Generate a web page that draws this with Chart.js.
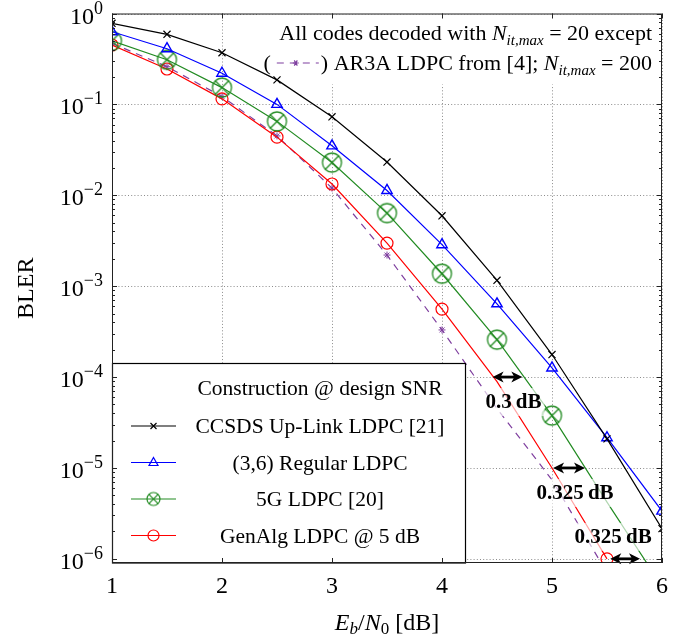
<!DOCTYPE html>
<html>
<head>
<meta charset="utf-8">
<script src="https://cdn.jsdelivr.net/npm/chart.js@4.4.1/dist/chart.umd.min.js"></script>
<style>
  html, body { margin: 0; padding: 0; background: #fff; }
  canvas { display: block; }
</style>
</head>
<body>
<canvas id="bler" width="689" height="643"></canvas>
<script>
// Eb/N0 points [dB]
var ebn0 = [1, 1.5, 2, 2.5, 3, 3.5, 4, 4.5, 5, 5.5, 6];

// BLER
var ccsdsBler = [0.78, 0.59, 0.37, 0.186, 0.073, 0.0232, 0.00595, 0.00116, 1.77e-4, 2.09e-5, 2.15e-6];
var regularBler = [0.63, 0.41, 0.22, 0.1, 0.035, 0.0113, 2.86e-3, 6.4e-4, 1.26e-4, 2.15e-5, 3.35e-6];
var fiveGBler = [0.50, 0.31, 0.153, 0.065, 0.0229, 6.37e-3, 1.37e-3, 2.58e-4, 3.77e-5, 4.2e-6, 5.0e-7];
var genAlgBler = [0.45, 0.245, 0.115, 0.0436, 0.0133, 2.98e-3, 5.6e-4, 8.9e-5, 1.0e-5, 1.0e-6];
var ar3aBler = [0.47, 0.26, 0.122, 0.045, 0.012, 2.2e-3, 3.3e-4, 4.5e-5, 7.4e-6, 7.0e-7];

var seriesNames = ['CCSDS Up-Link LDPC [21]', '(3,6) Regular LDPC', '5G LDPC [20]', 'GenAlg LDPC @ 5 dB'];

// axis ticks
var xTicks = [1, 2, 3, 4, 5, 6];
var yExponents = [0, -1, -2, -3, -4, -5, -6];

// gaps marked with arrows
var gapBler = [1e-4, 1e-5, 1e-6];
var gapFrom = [4.46, 5.01, 5.53];
var gapTo = [4.73, 5.30, 5.80];
var gapText = ['0.3\u2009dB', '0.325\u2009dB', '0.325\u2009dB'];

var SERIF = '"Liberation Serif", "DejaVu Serif", serif';
var GREEN = '#228b22';
var PURPLE = '#7f3f9f';

function pts(vals) {
    return vals.map(function (v, i) { return { x: ebn0[i], y: v }; });
}

// circle with a cross inside (otimes), used for the 5G curve
function makeOtimes(r, color, lw) {
    var c = document.createElement('canvas');
    var s = Math.ceil(2 * r + lw + 2);
    c.width = s; c.height = s;
    var g = c.getContext('2d');
    var m = s / 2, d = r * Math.SQRT1_2;
    g.strokeStyle = color; g.lineWidth = lw;
    g.beginPath(); g.arc(m, m, r, 0, 2 * Math.PI); g.stroke();
    g.beginPath();
    g.moveTo(m - d, m - d); g.lineTo(m + d, m + d);
    g.moveTo(m - d, m + d); g.lineTo(m + d, m - d);
    g.stroke();
    return c;
}
var otimesBig = makeOtimes(9.5, GREEN, 1.3);
var otimesSmall = makeOtimes(6.5, GREEN, 1.2);

function drawMarker(ctx, kind, x, y, color) {
    ctx.save();
    ctx.strokeStyle = color; ctx.lineWidth = 1.2; ctx.setLineDash([]);
    ctx.beginPath();
    if (kind === 'x') {
        ctx.moveTo(x - 3, y - 3); ctx.lineTo(x + 3, y + 3);
        ctx.moveTo(x - 3, y + 3); ctx.lineTo(x + 3, y - 3);
    } else if (kind === 'tri') {
        ctx.moveTo(x, y - 5); ctx.lineTo(x + 4.5, y + 3); ctx.lineTo(x - 4.5, y + 3); ctx.closePath();
    } else if (kind === 'o') {
        ctx.arc(x, y, 5.5, 0, 2 * Math.PI);
    } else if (kind === 'star') {
        for (var k = 0; k < 3; k++) {
            var a = k * Math.PI / 3;
            ctx.moveTo(x - 3 * Math.cos(a), y - 3 * Math.sin(a));
            ctx.lineTo(x + 3 * Math.cos(a), y + 3 * Math.sin(a));
        }
    }
    ctx.stroke();
    if (kind === 'otimes') ctx.drawImage(otimesSmall, x - otimesSmall.width / 2, y - otimesSmall.height / 2);
    ctx.restore();
}

// text made of runs with different fonts / offsets
function drawRuns(ctx, runs, x, y, align) {
    var w = 0;
    runs.forEach(function (r) {
        if (r.font) ctx.font = r.font;
        r.w = r.width !== undefined ? r.width : ctx.measureText(r.text).width;
        w += r.w;
    });
    var cx = align === 'right' ? x - w : (align === 'center' ? x - w / 2 : x);
    runs.forEach(function (r) {
        if (r.draw) r.draw(ctx, cx, y);
        else { ctx.font = r.font; ctx.fillText(r.text, cx, y + (r.dy || 0)); }
        cx += r.w;
    });
}

function rm(px) { return px + 'px ' + SERIF; }
function it(px) { return 'italic ' + px + 'px ' + SERIF; }

var decorations = {
    id: 'decorations',
    beforeDatasetsDraw: function (chart) {
        var ctx = chart.ctx, a = chart.chartArea;
        var xs = chart.scales.x, ys = chart.scales.y;
        ctx.save();
        // dotted grid
        ctx.strokeStyle = '#8c8c8c'; ctx.lineWidth = 1; ctx.setLineDash([1, 2.2]);
        xTicks.forEach(function (t) {
            var px = Math.round(xs.getPixelForValue(t)) + 0.5;
            ctx.beginPath(); ctx.moveTo(px, a.top); ctx.lineTo(px, a.bottom); ctx.stroke();
        });
        yExponents.forEach(function (e) {
            var py = Math.round(ys.getPixelForValue(Math.pow(10, e))) + 0.5;
            ctx.beginPath(); ctx.moveTo(a.left, py); ctx.lineTo(a.right, py); ctx.stroke();
        });
        ctx.setLineDash([]);

        // note box in the upper right
        ctx.fillStyle = '#fff';
        ctx.fillRect(258, a.top + 1, a.right - 259, 70);
        ctx.fillStyle = '#000'; ctx.textAlign = 'left'; ctx.textBaseline = 'alphabetic';
        drawRuns(ctx, [
            { text: 'All codes decoded with ', font: rm(22) },
            { text: 'N', font: it(22) },
            { text: 'it,max', font: it(15), dy: 5 },
            { text: ' = 20 except', font: rm(22) }
        ], a.right - 10, 40, 'right');
        drawRuns(ctx, [
            { text: '(', font: rm(22) },
            { text: '', width: 50, draw: function (c, x0, y0) {
                var yy = y0 - 7;
                c.save();
                c.strokeStyle = PURPLE; c.lineWidth = 1.2; c.setLineDash([7, 6]); c.lineDashOffset = -3;
                c.beginPath(); c.moveTo(x0 + 3, yy); c.lineTo(x0 + 48, yy); c.stroke();
                c.restore();
                drawMarker(c, 'star', x0 + 25, yy, PURPLE);
            } },
            { text: ') AR3A LDPC from [4]; ', font: rm(22) },
            { text: 'N', font: it(22) },
            { text: 'it,max', font: it(15), dy: 5 },
            { text: ' = 200', font: rm(22) }
        ], a.right - 10, 70, 'right');
        ctx.restore();
    },
    afterDatasetsDraw: function (chart) {
        var ctx = chart.ctx, a = chart.chartArea;
        var xs = chart.scales.x, ys = chart.scales.y;
        ctx.save();

        // gap arrows and labels
        gapBler.forEach(function (b, i) {
            var py = ys.getPixelForValue(b);
            var x1 = xs.getPixelForValue(gapFrom[i]), x2 = xs.getPixelForValue(gapTo[i]);
            var lx = (x1 + x2) / 2 + (i < 2 ? 6 : -12);
            var ly = py + (i < 2 ? 25 : -22);
            ctx.font = 'bold 21px ' + SERIF;
            var tw = ctx.measureText(gapText[i]).width;
            ctx.fillStyle = 'rgba(255,255,255,0.65)';
            ctx.fillRect(lx - tw / 2 - 3, ly - 14, tw + 6, 28);
            ctx.fillStyle = '#000'; ctx.textAlign = 'center'; ctx.textBaseline = 'middle';
            ctx.fillText(gapText[i], lx, ly + 1);

            ctx.strokeStyle = '#000'; ctx.lineWidth = 2.8;
            ctx.beginPath(); ctx.moveTo(x1 + 6, py); ctx.lineTo(x2 - 6, py); ctx.stroke();
            [[x1, 1], [x2, -1]].forEach(function (h) {
                ctx.beginPath();
                ctx.moveTo(h[0], py);
                ctx.lineTo(h[0] + h[1] * 11, py - 5.5);
                ctx.lineTo(h[0] + h[1] * 8, py);
                ctx.lineTo(h[0] + h[1] * 11, py + 5.5);
                ctx.closePath(); ctx.fill();
            });
        });

        // legend
        var lx0 = a.left + 0.5, ly0 = 363.5, lx1 = 465.5, ly1 = a.bottom;
        ctx.fillStyle = '#fff';
        ctx.fillRect(lx0, ly0, lx1 - lx0, ly1 - ly0);
        ctx.strokeStyle = '#000'; ctx.lineWidth = 1.2;
        ctx.strokeRect(lx0, ly0, lx1 - lx0, ly1 - ly0);
        ctx.fillStyle = '#000'; ctx.textAlign = 'center'; ctx.textBaseline = 'alphabetic';
        ctx.font = rm(21.5);
        ctx.fillText('Construction @ design SNR', 320, 395);
        var kinds = ['x', 'tri', 'otimes', 'o'];
        chart.data.datasets.slice(0, 4).forEach(function (ds, i) {
            var by = 433 + i * 36.5;
            ctx.strokeStyle = ds.borderColor; ctx.lineWidth = 1.2;
            ctx.beginPath(); ctx.moveTo(131, by - 7); ctx.lineTo(176, by - 7); ctx.stroke();
            drawMarker(ctx, kinds[i], 153.5, by - 7, ds.borderColor);
            ctx.fillStyle = '#000';
            ctx.fillText(seriesNames[i], 320, by);
        });

        // frame and ticks
        ctx.strokeStyle = '#222'; ctx.lineWidth = 1;
        ctx.strokeRect(a.left + 0.5, a.top + 0.5, a.right - a.left - 1, a.bottom - a.top - 1);
        ctx.beginPath();
        xTicks.forEach(function (t) {
            var px = Math.round(xs.getPixelForValue(t)) + 0.5;
            ctx.moveTo(px, a.bottom); ctx.lineTo(px, a.bottom - 5);
            ctx.moveTo(px, a.top); ctx.lineTo(px, a.top + 5);
        });
        yExponents.forEach(function (e) {
            var py = Math.round(ys.getPixelForValue(Math.pow(10, e))) + 0.5;
            ctx.moveTo(a.left, py); ctx.lineTo(a.left + 5, py);
            ctx.moveTo(a.right, py); ctx.lineTo(a.right - 5, py);
            for (var m = 2; m <= 9; m++) {
                var v = m * Math.pow(10, e);
                if (v >= 1 || v < ys.min) continue;
                var q = Math.round(ys.getPixelForValue(v)) + 0.5;
                ctx.moveTo(a.left, q); ctx.lineTo(a.left + 3, q);
                ctx.moveTo(a.right, q); ctx.lineTo(a.right - 3, q);
            }
        });
        ctx.stroke();
        ctx.restore();
    },
    afterDraw: function (chart) {
        var ctx = chart.ctx, a = chart.chartArea;
        var xs = chart.scales.x, ys = chart.scales.y;
        ctx.save();
        ctx.fillStyle = '#000'; ctx.textBaseline = 'alphabetic';

        // y tick labels 10^e
        yExponents.forEach(function (e) {
            var py = ys.getPixelForValue(Math.pow(10, e));
            var ex = e === 0 ? '0' : '\u2212' + (-e);
            ctx.textAlign = 'left';
            drawRuns(ctx, [
                { text: '10', font: rm(24) },
                { text: ex, font: rm(18), dy: -10 }
            ], 103, py + 10, 'right');
        });

        // x tick labels
        ctx.textAlign = 'center'; ctx.font = rm(24);
        xTicks.forEach(function (t) {
            ctx.fillText(String(t), xs.getPixelForValue(t), 593);
        });

        // x title
        ctx.textAlign = 'left';
        drawRuns(ctx, [
            { text: 'E', font: it(24) },
            { text: 'b', font: it(17), dy: 4 },
            { text: '/', font: rm(24) },
            { text: 'N', font: it(24) },
            { text: '0', font: rm(17), dy: 4 },
            { text: ' [dB]', font: rm(24) }
        ], (a.left + a.right) / 2, 630, 'center');

        // y title
        ctx.translate(27, (a.top + a.bottom) / 2);
        ctx.rotate(-Math.PI / 2);
        ctx.textAlign = 'center'; ctx.textBaseline = 'middle';
        ctx.font = rm(24);
        ctx.fillText('BLER', 0, 0);
        ctx.restore();
    }
};

var ctx = document.getElementById('bler').getContext('2d');

new Chart(ctx, {
    type: 'line',
    data: {
        datasets: [{
            label: seriesNames[0],
            data: pts(ccsdsBler),
            borderColor: '#000000',
            borderWidth: 1.2,
            pointStyle: 'crossRot',
            pointRadius: 5,
            pointBorderWidth: 1.2,
            pointBorderColor: '#000000',
            pointBackgroundColor: 'transparent'
        }, {
            label: seriesNames[1],
            data: pts(regularBler),
            borderColor: '#0000ff',
            borderWidth: 1.2,
            pointStyle: 'triangle',
            pointRadius: 6,
            pointBorderWidth: 1.4,
            pointBorderColor: '#0000ff',
            pointBackgroundColor: 'transparent'
        }, {
            label: seriesNames[2],
            data: pts(fiveGBler),
            borderColor: GREEN,
            borderWidth: 1.2,
            pointStyle: otimesBig,
            pointRadius: function (c) { return c.dataIndex < 9 ? 10 : 0; }
        }, {
            label: seriesNames[3],
            data: pts(genAlgBler),
            borderColor: '#ff0000',
            borderWidth: 1.2,
            pointStyle: 'circle',
            pointRadius: function (c) { return (c.dataIndex < 7 || c.dataIndex === 9) ? 6 : 0; },
            pointBorderWidth: 1.2,
            pointBorderColor: '#ff0000',
            pointBackgroundColor: 'transparent'
        }, {
            label: 'AR3A LDPC [4]',
            data: pts(ar3aBler),
            borderColor: PURPLE,
            borderWidth: 1.2,
            borderDash: [7, 6],
            pointStyle: 'star',
            pointRadius: function (c) { return c.dataIndex < 7 ? 3.5 : 0; },
            pointBorderWidth: 1,
            pointBorderColor: PURPLE,
            pointBackgroundColor: 'transparent'
        }]
    },
    options: {
        responsive: false,
        animation: false,
        devicePixelRatio: 1,
        layout: { padding: { left: 112, top: 13.5, right: 27, bottom: 80 } },
        elements: { line: { tension: 0 } },
        scales: {
            x: { type: 'linear', min: 1, max: 6, display: false },
            y: { type: 'logarithmic', min: 9.0e-7, max: 1, display: false }
        },
        plugins: {
            legend: { display: false },
            tooltip: { enabled: false }
        }
    },
    plugins: [decorations]
});
</script>
</body>
</html>
